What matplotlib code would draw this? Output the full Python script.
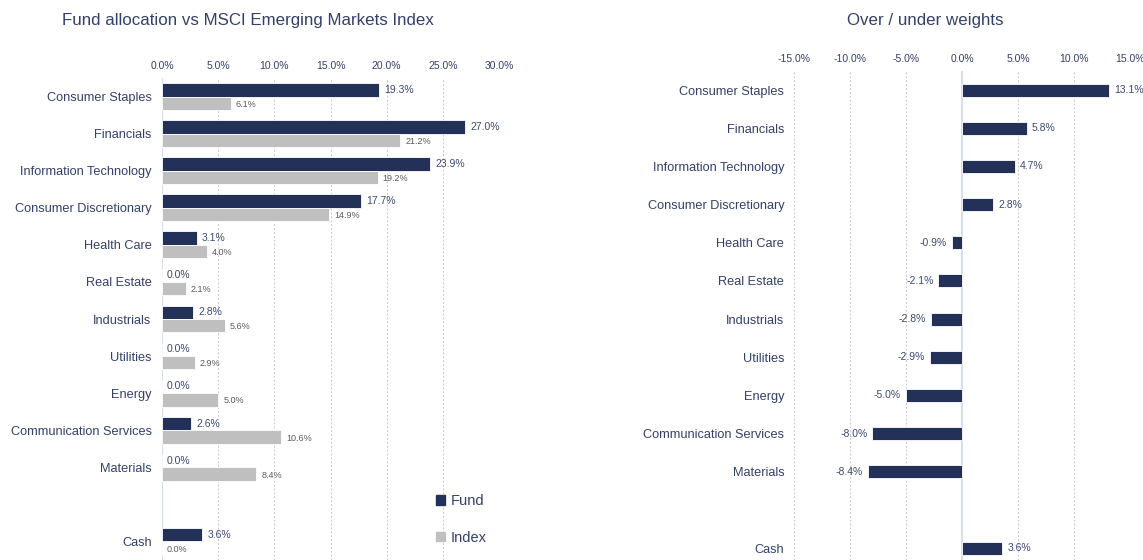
import matplotlib
matplotlib.use("Agg")
import matplotlib.pyplot as plt
from matplotlib.patches import Patch
import numpy as np

plt.rcParams['font.family'] = ['Liberation Sans', 'DejaVu Sans']

categories = ["Consumer Staples", "Financials", "Information Technology",
              "Consumer Discretionary", "Health Care", "Real Estate", "Industrials",
              "Utilities", "Energy", "Communication Services", "Materials", "", "Cash"]
fund = [19.3, 27.0, 23.9, 17.7, 3.1, 0.0, 2.8, 0.0, 0.0, 2.6, 0.0, None, 3.6]
index = [6.1, 21.2, 19.2, 14.9, 4.0, 2.1, 5.6, 2.9, 5.0, 10.6, 8.4, None, 0.0]
diff = [13.1, 5.8, 4.7, 2.8, -0.9, -2.1, -2.8, -2.9, -5.0, -8.0, -8.4, None, 3.6]
left_ticks = [0, 5, 10, 15, 20, 25, 30]
right_ticks = [-15, -10, -5, 0, 5, 10, 15]

NAVY = "#233159"
GRAY = "#bfbfbf"
TXT = "#34406a"
FUNDLBL = "#3c4870"
IDXLBL = "#5a5a5a"
GRID = "#c8c8c8"
ZERO = "#d6def0"

W, H = 1143, 560
fig = plt.figure(figsize=(W/100, H/100), dpi=100)

def fx(px): return px / W
def fy(py): return 1 - py / H

# ---------- Left panel ----------
axL = fig.add_axes([fx(162), fy(560), fx(499) - fx(162), fy(78) - fy(560)])
pos = np.arange(len(categories))
bh = 0.36
for i, (f, ix) in enumerate(zip(fund, index)):
    if f is None:
        continue
    axL.barh(pos[i] - bh/2, f, height=bh, color=NAVY, edgecolor="white", linewidth=0.6, zorder=3)
    axL.barh(pos[i] + bh/2, ix, height=bh, color=GRAY, edgecolor="white", linewidth=0.6, zorder=3)
    axL.text(f + 0.45, pos[i] - bh/2, f"{f:.1f}%", va="center", ha="left", fontsize=7.5, color=FUNDLBL)
    axL.text(ix + 0.45, pos[i] + bh/2 + 0.03, f"{ix:.1f}%", va="center", ha="left", fontsize=6.5, color=IDXLBL)
axL.set_xlim(0, 30)
axL.set_ylim(12.5, -0.5)
axL.set_yticks(pos)
axL.set_yticklabels(categories, fontsize=9.2, color=TXT)
axL.xaxis.tick_top()
axL.set_xticks(left_ticks)
axL.set_xticklabels([f"{t:.1f}%" for t in left_ticks], fontsize=7.5, color=TXT)
axL.tick_params(length=0, pad=5)
axL.tick_params(axis="y", pad=7.5)
for s in axL.spines.values():
    s.set_visible(False)
axL.grid(axis="x", linestyle=(0, (2, 2)), color=GRID, linewidth=0.7, zorder=0)
axL.axvline(0, color=ZERO, linewidth=1.5, zorder=2)
axL.legend(handles=[Patch(color=NAVY, label="Fund"), Patch(color=GRAY, label="Index")],
           loc="upper left", frameon=False, handlelength=0.65, handleheight=0.65,
           handletextpad=0.35, labelspacing=1.55, fontsize=10.5, labelcolor=TXT,
           borderpad=0, borderaxespad=0,
           bbox_to_anchor=(fx(436), fy(494)), bbox_transform=fig.transFigure)
fig.text(fx(248), fy(20), "Fund allocation vs MSCI Emerging Markets Index",
         ha="center", va="center", fontsize=12.2, color=TXT)

# ---------- Right panel ----------
axR = fig.add_axes([fx(794), fy(560), fx(1130) - fx(794), fy(71) - fy(560)])
bh2 = 0.34
for i, d in enumerate(diff):
    if d is None:
        continue
    axR.barh(pos[i], d, height=bh2, color=NAVY, edgecolor="white", linewidth=0.6, zorder=3)
    if d >= 0:
        axR.text(d + 0.45, pos[i], f"{d:.1f}%", va="center", ha="left", fontsize=7.5, color=FUNDLBL)
    else:
        axR.text(d - 0.45, pos[i], f"{d:.1f}%", va="center", ha="right", fontsize=7.5, color=FUNDLBL)
axR.set_xlim(-15, 15)
axR.set_ylim(12.31, -0.5)
axR.set_yticks(pos)
axR.set_yticklabels(categories, fontsize=9.2, color=TXT)
axR.xaxis.tick_top()
axR.set_xticks(right_ticks)
axR.set_xticklabels([f"{t:.1f}%" for t in right_ticks], fontsize=7.5, color=TXT)
axR.tick_params(length=0, pad=5)
axR.tick_params(axis="y", pad=7)
for s in axR.spines.values():
    s.set_visible(False)
axR.grid(axis="x", linestyle=(0, (2, 2)), color=GRID, linewidth=0.7, zorder=0)
axR.axvline(0, color=ZERO, linewidth=1.5, zorder=2)
fig.text(fx(925), fy(21), "Over / under weights", ha="center", va="center", fontsize=12.2, color=TXT)

fig.savefig("out.png", dpi=100, facecolor="white")
